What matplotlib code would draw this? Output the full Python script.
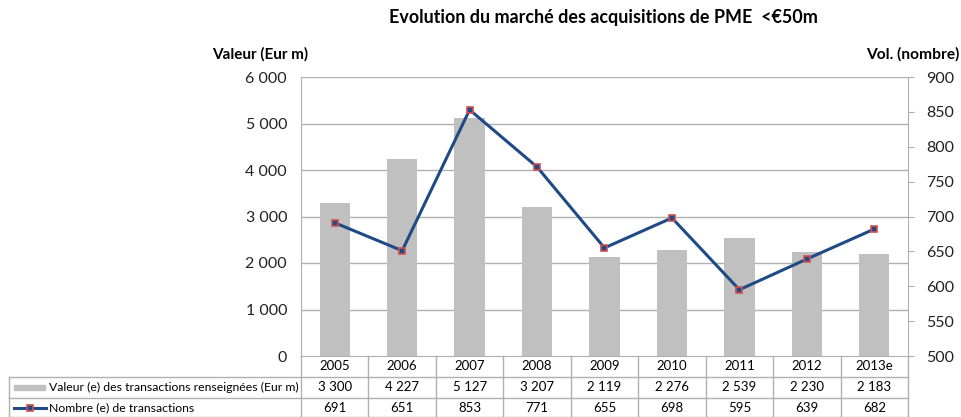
import matplotlib
matplotlib.use("Agg")
import matplotlib.pyplot as plt
from matplotlib.lines import Line2D
from matplotlib.patches import Rectangle

plt.rcParams['font.family'] = ['Lato', 'DejaVu Sans']

years = ["2005", "2006", "2007", "2008", "2009", "2010", "2011", "2012", "2013e"]
valeur = [3300, 4227, 5127, 3207, 2119, 2276, 2539, 2230, 2183]
nombre = [691, 651, 853, 771, 655, 698, 595, 639, 682]
left_ticks = [0, 1000, 2000, 3000, 4000, 5000, 6000]
right_ticks = [500, 550, 600, 650, 700, 750, 800, 850, 900]

title = "Evolution du marché des acquisitions de PME  <€50m"
label_bar = "Valeur (e) des transactions renseignées (Eur m)"
label_line = "Nombre (e) de transactions"

def fmt(v):
    return f"{v:,}".replace(",", " ")

W, H = 962, 417
fig = plt.figure(figsize=(W / 100, H / 100), dpi=100)
x0, x1, y_top, y_bot = 301, 908, 77, 356
ax = fig.add_axes([x0 / W, 1 - y_bot / H, (x1 - x0) / W, (y_bot - y_top) / H])

grid_c = "#B0B0B0"
bar_c = "#C0C0C0"
line_c = "#1F4A85"
mark_edge = "#D0504D"

n = len(years)
xs = list(range(n))
ax.bar(xs, valeur, width=0.45, color=bar_c, zorder=2)
ax.set_xlim(-0.5, n - 0.5)
ax.set_ylim(0, 6000)
ax.set_yticks(left_ticks)
ax.set_yticklabels([fmt(v) for v in left_ticks], fontsize=11.5, color="#222222")
ax.tick_params(axis="y", length=0, pad=10)
ax.set_xticks([])
for y in left_ticks[1:]:
    ax.axhline(y, color=grid_c, lw=1, zorder=1)
for s in ["top", "right"]:
    ax.spines[s].set_visible(False)
ax.spines["left"].set_color(grid_c)
ax.spines["bottom"].set_color(grid_c)

ax2 = ax.twinx()
ax2.plot(xs, nombre, color=line_c, lw=2.2, marker="s", markersize=4.5,
         markerfacecolor=line_c, markeredgecolor=mark_edge, markeredgewidth=1.2, zorder=3)
ax2.set_ylim(500, 900)
ax2.set_yticks(right_ticks)
ax2.set_yticklabels([str(v) for v in right_ticks], fontsize=11.5, color="#222222")
ax2.tick_params(axis="y", length=4, color=grid_c, pad=9)
for s in ["top", "left", "bottom"]:
    ax2.spines[s].set_visible(False)
ax2.spines["right"].set_color(grid_c)

fig.text(603 / W, 1 - 18 / H, title, ha="center", va="center", fontsize=12.9, fontweight="bold")
fig.text(212 / W, 1 - 54 / H, "Valeur (Eur m)", ha="left", va="center", fontsize=11, fontweight="bold")
fig.text(959 / W, 1 - 54 / H, "Vol. (nombre)", ha="right", va="center", fontsize=11.2, fontweight="bold")

# Data table below the chart
def fx(px):
    return px / W
def fy(py):
    return 1 - py / H

row_y = [356, 376.5, 398, 417]
col_w = (x1 - x0) / n
tl = dict(color=grid_c, lw=1, transform=fig.transFigure)
for y in row_y[1:]:
    fig.add_artist(Line2D([fx(9), fx(x1)], [fy(y), fy(y)], **tl))
for i in range(n + 1):
    xx = x0 + i * col_w
    fig.add_artist(Line2D([fx(xx), fx(xx)], [fy(row_y[0]), fy(row_y[3])], **tl))
fig.add_artist(Line2D([fx(9), fx(9)], [fy(row_y[1]), fy(row_y[3])], **tl))

for i in range(n):
    cx = x0 + (i + 0.5) * col_w
    fig.text(fx(cx), fy((row_y[0] + row_y[1]) / 2), years[i], ha="center", va="center", fontsize=9.5)
    fig.text(fx(cx), fy((row_y[1] + row_y[2]) / 2), fmt(valeur[i]), ha="center", va="center", fontsize=9.5)
    fig.text(fx(cx), fy((row_y[2] + row_y[3]) / 2), str(nombre[i]), ha="center", va="center", fontsize=9.5)

# legend keys in the table
ym1 = (row_y[1] + row_y[2]) / 2
fig.add_artist(Rectangle((fx(14), fy(ym1 + 2.5)), (45 - 14) / W, 5 / H, color=bar_c, transform=fig.transFigure))
fig.text(fx(49), fy(ym1), label_bar, ha="left", va="center", fontsize=8.8)
ym2 = (row_y[2] + row_y[3]) / 2
fig.add_artist(Line2D([fx(14), fx(46)], [fy(ym2), fy(ym2)], color=line_c, lw=2.2, transform=fig.transFigure))
fig.add_artist(Line2D([fx(30)], [fy(ym2)], color=line_c, marker="s", markersize=4.5,
                      markerfacecolor=line_c, markeredgecolor=mark_edge, markeredgewidth=1.2,
                      transform=fig.transFigure))
fig.text(fx(49), fy(ym2), label_line, ha="left", va="center", fontsize=8.8)

fig.savefig("out.png", dpi=100)
